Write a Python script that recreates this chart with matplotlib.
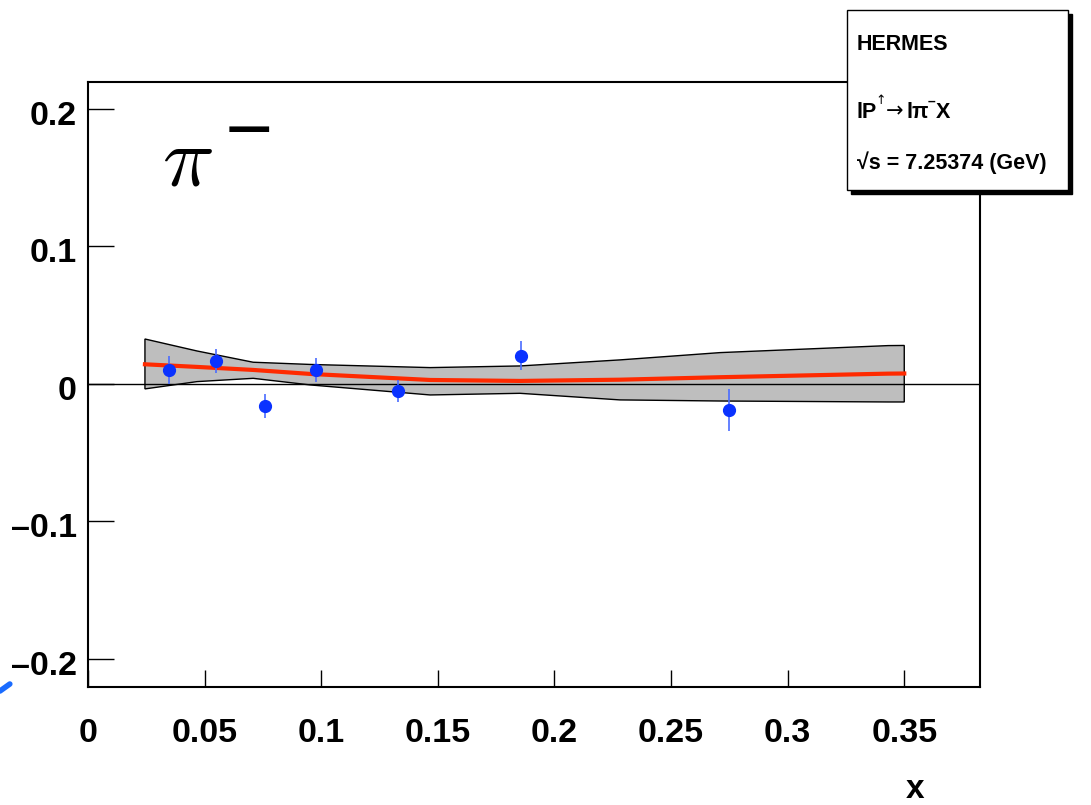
import matplotlib
matplotlib.use("Agg")
import matplotlib.pyplot as plt
from matplotlib.patches import Rectangle
from matplotlib.lines import Line2D
from matplotlib.transforms import ScaledTranslation

plt.rcParams['font.family'] = ['Liberation Sans', 'DejaVu Sans']
plt.rcParams['font.weight'] = 'bold'

# data points (HERMES pi-)
x_data = [0.0347, 0.0549, 0.0759, 0.0978, 0.1330, 0.1857, 0.2749]
y_data = [0.0102, 0.0167, -0.0160, 0.0102, -0.0051, 0.0204, -0.0190]
y_err = [0.0100, 0.0090, 0.0090, 0.0090, 0.0080, 0.0105, 0.0150]

# fit curve and uncertainty band
x_fit = [0.0244, 0.0467, 0.0708, 0.0952, 0.1467, 0.1852, 0.2281, 0.2710, 0.3431, 0.3500]
y_fit = [0.0143, 0.0124, 0.0102, 0.0073, 0.0029, 0.0022, 0.0031, 0.0049, 0.0075, 0.0076]
band_hi = [0.0327, 0.0240, 0.0158, 0.0142, 0.0119, 0.0131, 0.0175, 0.0228, 0.0279, 0.0280]
band_lo = [-0.0036, 0.0017, 0.0041, -0.0007, -0.0080, -0.0068, -0.0116, -0.0124, -0.0131, -0.0131]

x_ticks = [0, 0.05, 0.1, 0.15, 0.2, 0.25, 0.3, 0.35]
x_labels = ["0", "0.05", "0.1", "0.15", "0.2", "0.25", "0.3", "0.35"]
y_ticks = [-0.2, -0.1, 0, 0.1, 0.2]
y_labels = ["\u20130.2", "\u20130.1", "0", "0.1", "0.2"]

W, H = 1091, 805
fig = plt.figure(figsize=(W / 100, H / 100), dpi=100)
ax = fig.add_axes([0.0807, 0.1466, 0.8176, 0.7515])


def ptext(xp, yp, s, **kw):
    # text placed by pixel position in the figure
    return fig.text(xp / W, 1 - yp / H, s, **kw)


# band
poly_x = x_fit + x_fit[::-1]
poly_y = band_hi + band_lo[::-1]
ax.fill(poly_x, poly_y, facecolor='#bebebe', edgecolor='black', linewidth=1.0, zorder=2)
ax.axhline(0, color='black', linewidth=1.0, zorder=3)
ax.plot(x_fit, y_fit, color='#ff2a00', linewidth=3.0, zorder=4)
ax.errorbar(x_data, y_data, yerr=y_err, fmt='o', color='#0a32ff', ecolor='#4a6cff',
            elinewidth=1.2, markersize=8.5, capsize=0, zorder=5)

ax.set_xlim(0, 0.3825)
ax.set_ylim(-0.2204, 0.2196)
ax.set_xticks(x_ticks)
ax.set_xticklabels(x_labels)
ax.set_yticks(y_ticks)
ax.set_yticklabels(y_labels)
ax.tick_params(axis='x', direction='in', length=12, width=1, labelsize=24.5, pad=22)
ax.tick_params(axis='y', direction='in', length=19, width=1, labelsize=24.5, pad=8)
shift = ScaledTranslation(0, -4 / 100, fig.dpi_scale_trans)
for lab in ax.get_xticklabels():
    lab.set_fontweight('bold')
for lab in ax.get_yticklabels():
    lab.set_fontweight('bold')
    lab.set_transform(lab.get_transform() + shift)
for sp in ax.spines.values():
    sp.set_linewidth(1.5)

# pi- label
ax.text(0.083, 0.866, r"$\pi$", transform=ax.transAxes, fontsize=62,
        math_fontfamily='cm', ha='left', va='center', color='black')
ptext(249, 128, "\u2014", fontsize=32, family='DejaVu Sans', ha='center', va='center')

# axis title
fig.text(0.839, 0.0, "x", fontsize=24, fontweight='bold', ha='center', va='bottom')

# info box with shadow
bx, by, bw, bh = 0.7764, 0.7640, 0.2026, 0.2236
fig.patches.append(Rectangle((bx + 0.0037, by - 0.005), bw, bh, transform=fig.transFigure,
                             facecolor='black', edgecolor='black', zorder=5))
fig.patches.append(Rectangle((bx, by), bw, bh, transform=fig.transFigure,
                             facecolor='white', edgecolor='black', linewidth=1.0, zorder=6))
fs_box = 15.5
ptext(857, 44, "HERMES", fontsize=fs_box, fontweight='bold', va='center', zorder=7)

# l P^up -> l pi^- X
ptext(857, 118, "lP", fontsize=fs_box, fontweight='bold', va='baseline', zorder=7)
ptext(875, 101, "\u2191", fontsize=9, family='DejaVu Sans', fontweight='normal',
      va='center', zorder=7)
ptext(886, 111, "\u2192", fontsize=15, family='DejaVu Sans', fontweight='normal',
      va='center', zorder=7)
ptext(906, 118, "l\u03c0", fontsize=fs_box, fontweight='bold', va='baseline', zorder=7)
ptext(928, 102, "\u2013", fontsize=10, fontweight='bold', va='center', zorder=7)
ptext(936, 118, "X", fontsize=fs_box, fontweight='bold', va='baseline', zorder=7)

# sqrt(s) line
ptext(857, 163, "\u221as = 7.25374 (GeV)", fontsize=fs_box, fontweight='bold',
      va='center', zorder=7)

# clipped stroke from the neighbouring pad
fig.lines.append(Line2D([0.0, 0.009], [1 - 691 / H, 1 - 684 / H], transform=fig.transFigure,
                        color='#1a6cff', linewidth=4, solid_capstyle='round'))

fig.savefig("out.png", dpi=100)
